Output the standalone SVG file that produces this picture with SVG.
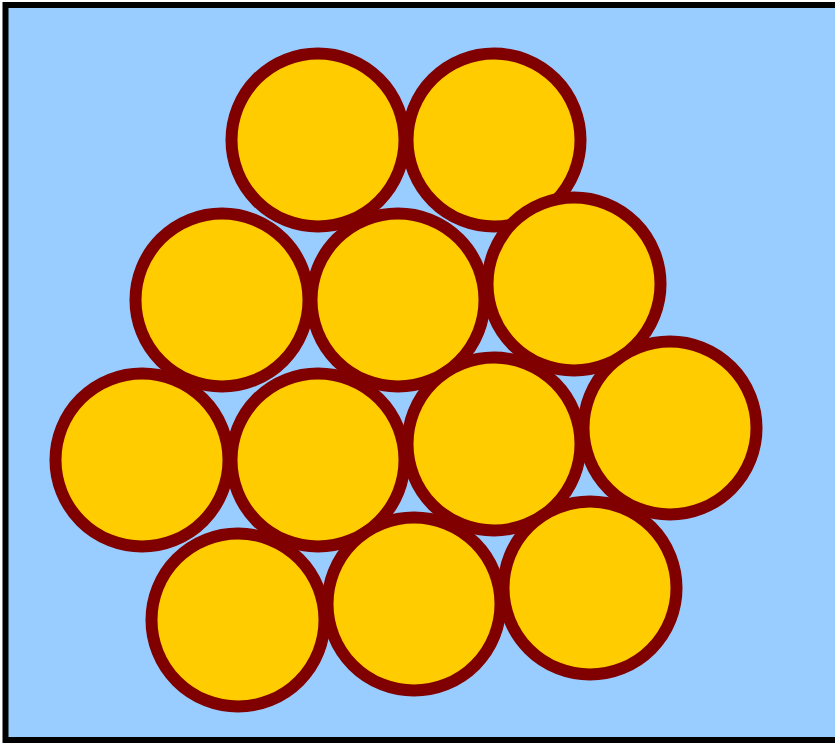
<svg xmlns="http://www.w3.org/2000/svg" width="835" height="743" viewBox="0 0 835 743">
<style>
.c{fill:#ffcc00;stroke:#800000;stroke-width:12}
</style>
<rect x="5.5" y="5" width="840" height="735" fill="#99ccff" stroke="#000" stroke-width="6"/>
<g id="circles">
<circle id="c1" class="c" cx="318" cy="140" r="86.5"/>
<circle id="c2" class="c" cx="494" cy="140" r="86.5"/>
<circle id="c5" class="c" cx="574" cy="284" r="86.5"/>
<circle id="c3" class="c" cx="222" cy="300" r="86.5"/>
<circle id="c4" class="c" cx="398" cy="300" r="86.5"/>
<circle id="c9" class="c" cx="670" cy="428" r="86.5"/>
<circle id="c8" class="c" cx="494" cy="444" r="86.5"/>
<circle id="c6" class="c" cx="142" cy="460" r="86.5"/>
<circle id="c7" class="c" cx="318" cy="460" r="86.5"/>
<circle id="c12" class="c" cx="590" cy="588" r="86.5"/>
<circle id="c11" class="c" cx="414" cy="604" r="86.5"/>
<circle id="c10" class="c" cx="238" cy="620" r="86.5"/>
</g>
</svg>
